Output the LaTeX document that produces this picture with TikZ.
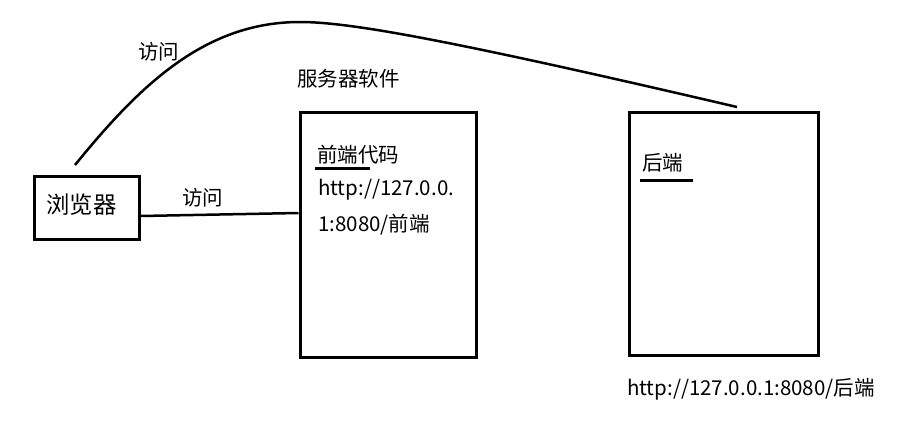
\documentclass[tikz,border=0pt]{standalone}
\usepackage{fontspec}
\setmainfont{Noto Sans CJK SC}
\begin{document}
\begin{tikzpicture}[x=1pt,y=-1pt,
  box/.style={draw, line width=3pt, inner sep=0pt, anchor=north west},
  lbl/.style={inner sep=0pt, anchor=west, font=\fontsize{20.5}{24}\selectfont},
  biglbl/.style={inner sep=0pt, anchor=west, font=\fontsize{23.4}{28}\selectfont},
  ln/.style={line width=2.5pt},
  uline/.style={line width=3pt}]
\useasboundingbox (0,0) rectangle (906,426);
% boxes
\node[box, minimum width=105pt, minimum height=63pt] (browser) at (32.5,174.5) {};
\node[box, minimum width=176pt, minimum height=245pt] (front) at (298.5,110.5) {};
\node[box, minimum width=189pt, minimum height=243pt] (back) at (627.5,110.5) {};
% texts
\node[biglbl] (tbrowser) at (46,205) {浏览器};
\node[lbl] (visit1) at (138,52) {访问};
\node[lbl] (visit2) at (182,198) {访问};
\node[lbl] (server) at (297,79) {服务器软件};
\node[lbl] (fcode) at (317,155) {前端代码};
\node[lbl] (furl1) at (318,190) {http://127.0.0.};
\node[lbl] (furl2) at (318,225) {1:8080/前端};
\node[lbl] (tback) at (642,163) {后端};
\node[lbl] (burl) at (627,389) {http://127.0.0.1:8080/后端};
% underlines
\draw[uline] (315,168) -- (370,168);
\draw[uline] (640,180) -- (693,180);
% connectors
\coordinate (c1) at (75,165);
\coordinate (c2) at (737,107);
\coordinate (m1) at (0,216);
\coordinate (m2) at (0,213);
\draw[ln] (browser.east |- m1) -- (front.west |- m2);
\draw[ln] (c1) .. controls (140,85) and (205,22) .. (300,22)
  .. controls (350,22) and (450,40) .. (c2);
\end{tikzpicture}
\end{document}
